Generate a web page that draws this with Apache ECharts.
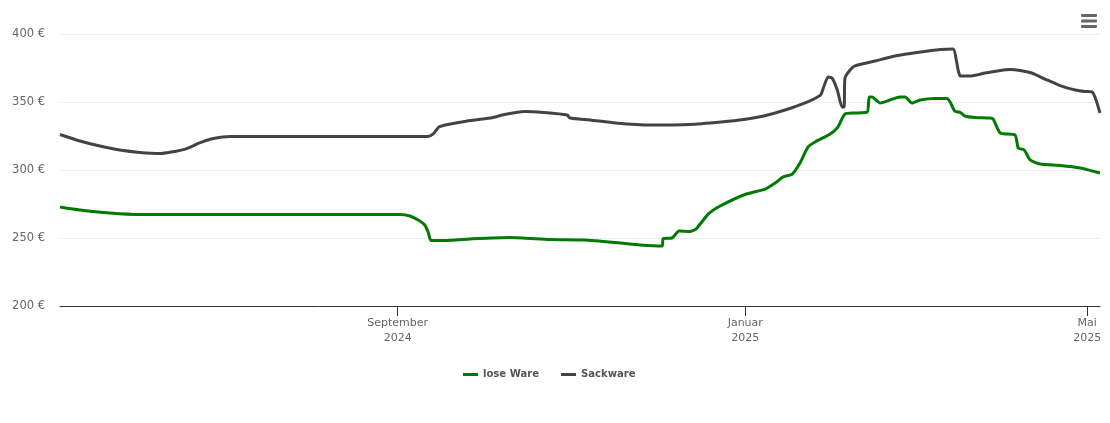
<!DOCTYPE html>
<html>
<head>
<meta charset="utf-8">
<title>Preisentwicklung</title>
<script src="https://cdn.jsdelivr.net/npm/echarts@6/dist/echarts.min.js"></script>
<style>
html,body{margin:0;padding:0;background:#fff;}
#main{width:1110px;height:423px;}
</style>
</head>
<body>
<div id="main"></div>
<script>
// days are counted from the left edge of the chart (5 May 2024, midday)
var startDate = Date.UTC(2024, 4, 5, 12);
var endDate = Date.UTC(2025, 4, 5, 12);
var seriesNames = ['lose Ware', 'Sackware'];
var seriesColors = ['#007a00', '#434343'];
var tickDates = [Date.UTC(2024, 8, 1), Date.UTC(2025, 0, 1), Date.UTC(2025, 4, 1)];
var tickNames = ['September', 'Januar', 'Mai'];

var looseDays = [0, 7, 17.5, 28, 49, 84, 119.3, 122.8, 125.7, 128, 129.2, 130.2, 135, 144, 158, 172, 184, 196.6, 203.6, 211.3, 211.7, 214.8, 217.3, 221, 223.2, 227.5, 231.7, 240.4, 247.5, 251, 253.8, 257, 259.7, 262.5, 265, 270.3, 273, 275.5, 279, 283.3, 284, 285, 287.8, 291.3, 294.8, 296.6, 299, 301.9, 307, 311.3, 312.4, 314, 316, 317.6, 321, 326.4, 327.5, 330, 335.2, 336.3, 338.4, 340.5, 344, 351, 358, 365];
var looseValues = [272.8, 270.6, 268.4, 267.3, 267.3, 267.3, 267.3, 266.2, 263.2, 259.6, 254.4, 248.2, 248.2, 249.3, 250.4, 248.9, 248.5, 246.3, 244.9, 244.1, 249.6, 250, 255.1, 254.8, 256.6, 267.6, 273.5, 282, 286, 290.4, 294.9, 297, 305.1, 316.9, 320.6, 326.5, 331.6, 341.2, 341.9, 342.6, 353.7, 353.7, 349.3, 351.5, 353.7, 353.7, 349.3, 351.5, 352.6, 352.6, 350, 343.4, 342.3, 339.7, 338.6, 338.2, 337.5, 327.2, 325.7, 316.2, 314.7, 307.4, 304.4, 303.3, 301.5, 297.8];

var sackDays = [0, 7, 14, 21, 28, 35, 39, 44, 49, 53, 57, 60, 84, 129, 131, 133, 137, 142, 151, 156, 163, 170, 178, 179, 186, 195, 207, 221, 232, 240, 247, 254.5, 261.5, 266.9, 267.9, 269.6, 271, 272.8, 274.5, 275.2, 275.5, 277.3, 279, 286, 293, 302, 309, 313.4, 316, 319.4, 324.7, 330, 333.4, 337, 341, 345.7, 351, 356.3, 359.8, 362.2, 363.6, 365];
var sackValues = [326.1, 321.3, 317.6, 314.7, 312.9, 312.1, 313.2, 315.4, 319.9, 322.8, 324.3, 324.6, 324.6, 324.6, 326.5, 331.6, 333.8, 335.7, 338.2, 340.8, 343, 342.3, 340.4, 338.2, 336.8, 334.6, 333.1, 333.5, 335.3, 337.1, 339.7, 344.1, 349.3, 355.1, 360.3, 368.4, 367.6, 358.8, 346.3, 346.3, 367.6, 373.5, 376.5, 380.1, 383.8, 386.8, 388.6, 389, 369.1, 369.1, 371.3, 373.2, 373.9, 373.2, 371.3, 366.9, 362.1, 358.8, 357.7, 357.4, 351.5, 341.9];

function toPoints(days, values){
	var list = [];
	for(var i = 0; i < days.length; i++){
		list.push([startDate + days[i] * 86400000, values[i]]);
	}
	return list;
}

function makeSeries(idx, days, values){
	return {
		name: seriesNames[idx],
		type: 'line',
		smooth: 0.2,
		showSymbol: false,
		symbol: 'none',
		data: toPoints(days, values),
		lineStyle: {width: 3, color: seriesColors[idx]},
		itemStyle: {color: seriesColors[idx]}
	};
}

var myChart = echarts.init(document.getElementById('main'), null, {renderer: 'canvas'});

myChart.setOption({
	animation: false,
	backgroundColor: '#fff',
	grid: {left: 60, right: 10, top: 34, bottom: 117},
	legend: {
		data: seriesNames,
		bottom: 38,
		left: 458,
		icon: 'rect',
		itemWidth: 15,
		itemHeight: 3,
		itemGap: 22,
		itemStyle: {borderWidth: 0},
		textStyle: {color: '#555', fontFamily: "'DejaVu Sans Condensed'", fontWeight: 'bold', fontSize: 11.2}
	},
	xAxis: {
		// plain value axis on timestamps, the time axis does not take custom ticks
		type: 'value',
		min: startDate,
		max: endDate,
		splitLine: {show: false},
		axisLine: {lineStyle: {color: '#333', width: 1}},
		axisTick: {
			show: true,
			length: 10,
			customValues: tickDates,
			lineStyle: {color: '#333', width: 1}
		},
		axisLabel: {
			customValues: tickDates,
			margin: 10,
			color: '#666',
			fontFamily: 'DejaVu Sans',
			fontSize: 11,
			lineHeight: 15,
			hideOverlap: false,
			formatter: function(value){
				var d = new Date(value);
				return tickNames[tickDates.indexOf(value)] + '\n' + d.getUTCFullYear();
			}
		}
	},
	yAxis: {
		type: 'value',
		min: 200,
		max: 400,
		interval: 50,
		axisLine: {show: false},
		axisTick: {show: false},
		axisLabel: {
			color: '#666',
			margin: 15,
			fontFamily: 'DejaVu Sans',
			fontSize: 11.5,
			formatter: '{value} €'
		},
		splitLine: {lineStyle: {type: 'dotted', color: '#ddd', width: 1}}
	},
	graphic: [{
		type: 'group',
		right: 13,
		top: 14,
		children: [
			{type: 'rect', shape: {x: 0, y: 0, width: 16, height: 3, r: 1}, style: {fill: '#666'}},
			{type: 'rect', shape: {x: 0, y: 5.5, width: 16, height: 3, r: 1}, style: {fill: '#666'}},
			{type: 'rect', shape: {x: 0, y: 11, width: 16, height: 3, r: 1}, style: {fill: '#666'}}
		]
	}],
	series: [
		makeSeries(0, looseDays, looseValues),
		makeSeries(1, sackDays, sackValues)
	]
});
</script>
</body>
</html>
